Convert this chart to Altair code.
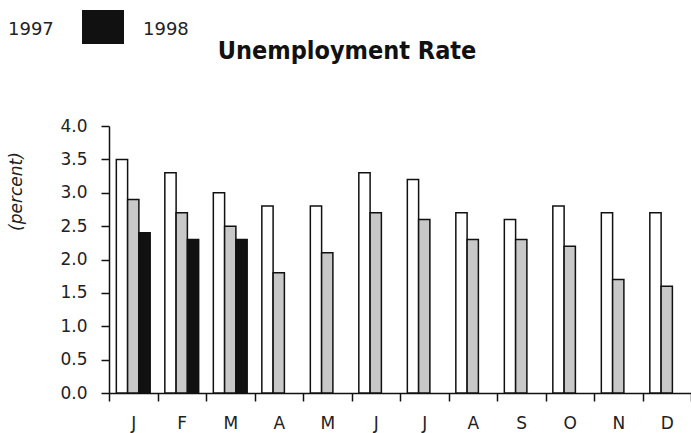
import altair as alt
import pandas as pd

months = ["Jan", "Feb", "Mar", "Apr", "May", "Jun", "Jul", "Aug", "Sep", "Oct", "Nov", "Dec"]
years = ["1996", "1997", "1998"]
rate_1996 = [3.5, 3.3, 3.0, 2.8, 2.8, 3.3, 3.2, 2.7, 2.6, 2.8, 2.7, 2.7]
rate_1997 = [2.9, 2.7, 2.5, 1.8, 2.1, 2.7, 2.6, 2.3, 2.3, 2.2, 1.7, 1.6]
rate_1998 = [2.4, 2.3, 2.3]
y_ticks = [0.0, 0.5, 1.0, 1.5, 2.0, 2.5, 3.0, 3.5, 4.0]

rows = []
for yr, vals in zip(years, [rate_1996, rate_1997, rate_1998]):
    for m, v in zip(months, vals):
        rows.append({"month": m, "year": yr, "rate": v})
df = pd.DataFrame(rows)

FONT = "DejaVu Sans"

bars = alt.Chart(df).mark_bar(stroke="#111111", strokeWidth=1.5).encode(
    x=alt.X("month:N", sort=months, title=None,
            scale=alt.Scale(paddingInner=0, paddingOuter=0),
            axis=alt.Axis(labelExpr="substring(datum.label, 0, 1)", labelAngle=0,
                          tickBand="extent", tickSize=8, labelPadding=14,
                          labelFontSize=17, labelFont=FONT, labelColor="#222222",
                          domainColor="#111111", tickColor="#111111",
                          domainWidth=1.5, tickWidth=1.5)),
    xOffset=alt.XOffset("year:N", sort=years,
                        scale=alt.Scale(paddingInner=0, paddingOuter=0.65)),
    y=alt.Y("rate:Q", scale=alt.Scale(domain=[0, 4], nice=False),
            axis=alt.Axis(values=y_ticks, format=".1f", tickSize=8, labelPadding=14,
                          labelFontSize=17, labelFont=FONT, labelColor="#222222",
                          domainColor="#111111", tickColor="#111111",
                          domainWidth=1.5, tickWidth=1.5, grid=False,
                          title="(percent)", titleFont=FONT, titleFontSize=17,
                          titleFontStyle="italic", titleFontWeight="normal",
                          titleColor="#222222", titleX=-84, titleY=65,
                          titleAlign="center", titleAngle=-90)),
    fill=alt.Fill("year:N", sort=years,
                  scale=alt.Scale(domain=years, range=["#ffffff", "#c8c8c8", "#111111"]),
                  legend=None),
)

title_df = pd.DataFrame({"t": ["Unemployment Rate"]})
title = alt.Chart(title_df).mark_text(
    font="DejaVu Sans Condensed", fontWeight="bold", fontSize=25, color="#111111",
    align="center", baseline="alphabetic"
).encode(text="t:N", x=alt.value(238), y=alt.value(-67))

leg_df = pd.DataFrame({"t": ["1997", "1998"], "px": [-101, 34]})
leg_text = alt.Chart(leg_df).mark_text(
    font=FONT, fontSize=18, color="#222222", align="left", baseline="middle"
).encode(text="t:N", x=alt.X("px:Q", scale=None), y=alt.value(-96))

leg_box = alt.Chart(pd.DataFrame({"k": ["1998"]})).mark_rect(color="#111111").encode(
    x=alt.value(-27), x2=alt.value(15), y=alt.value(-116), y2=alt.value(-82))

chart = alt.layer(bars, title, leg_text, leg_box).properties(
    width=582, height=267,
    padding={"left": 109, "top": 126, "right": 0, "bottom": 40},
    autosize=alt.AutoSizeParams(type="none"),
    background="white",
).configure_view(stroke=None)

chart.save("out.html", embed_options={"renderer": "svg", "actions": False})
